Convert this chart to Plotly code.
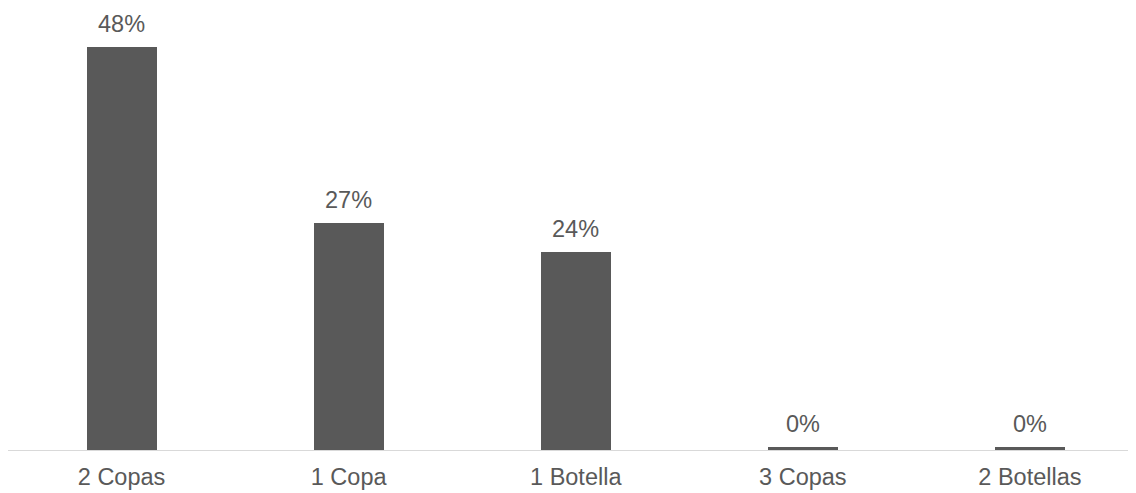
import plotly.graph_objects as go

categories = ["2 Copas", "1 Copa", "1 Botella", "3 Copas", "2 Botellas"]
values = [47.9, 27.0, 23.6, 0.4, 0.3]
labels = [f"{v:.0f}%" for v in values]

bar_color = "#595959"
text_color = "#595959"
font_family = "Liberation Sans, Arial, sans-serif"

fig = go.Figure(
    go.Bar(
        x=categories,
        y=values,
        marker=dict(color=bar_color, line=dict(width=0)),
        width=0.308,
    )
)

for c, v, t in zip(categories, values, labels):
    fig.add_annotation(
        x=c, y=v, text=t, showarrow=False, yanchor="bottom", yshift=8,
        font=dict(size=23.5, color=text_color, family=font_family),
    )

fig.update_layout(
    width=1128,
    height=485,
    margin=dict(l=0, r=0, t=0, b=43),
    paper_bgcolor="white",
    plot_bgcolor="white",
    showlegend=False,
    bargap=0,
    font=dict(family=font_family, size=23.5, color=text_color),
)
fig.update_xaxes(
    range=[-0.5, 4.467],
    showline=True,
    linecolor="#d9d9d9",
    linewidth=1,
    ticks="",
    ticklabelstandoff=6,
    showgrid=False,
    zeroline=False,
    tickfont=dict(size=23.5, color=text_color, family=font_family),
)
fig.update_yaxes(
    range=[0, 52.56],
    visible=False,
    showgrid=False,
    zeroline=False,
)

fig.write_html("out.html")
